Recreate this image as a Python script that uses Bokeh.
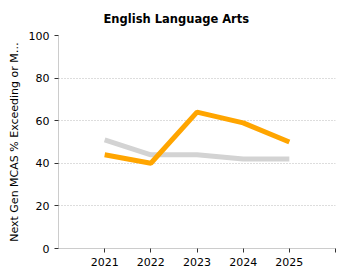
from bokeh.plotting import figure
from bokeh.models import Range1d, FixedTicker
from bokeh.embed import file_html
from bokeh.resources import INLINE

years = [2021, 2022, 2023, 2024, 2025]
school = [44, 40, 64, 59, 50]
state = [51, 44, 44, 42, 42]
y_ticks = [0, 20, 40, 60, 80, 100]

FONT = "DejaVu Sans"

p = figure(width=350, height=280, output_backend="svg", toolbar_location=None,
           x_range=Range1d(2020, 2026), y_range=Range1d(0, 100),
           min_border_left=58, min_border_right=15, min_border_top=35, min_border_bottom=32,
           title="English Language Arts")
p.title.align = "left"
p.title.offset = 45
p.title.standoff = 19
p.title.text_font = FONT
p.title.text_font_size = "11.5px"
p.title.text_font_style = "bold"
p.title.text_color = "#000000"
p.outline_line_color = None

p.line(years, state, line_color="#d3d3d3", line_width=5)
p.line(years, school, line_color="#ffa500", line_width=5)

p.xgrid.grid_line_color = None
p.ygrid.grid_line_color = "#bbbbbb"
p.ygrid.grid_line_dash = "1 2"
p.ygrid.grid_line_width = 1

p.xaxis.ticker = FixedTicker(ticks=years + [2026])
p.xaxis.major_label_overrides = {2026: ""}
p.yaxis.ticker = FixedTicker(ticks=y_ticks)
for ax in (p.xaxis, p.yaxis):
    ax.axis_line_color = "#cccccc"
    ax.major_tick_line_color = "#333333"
    ax.minor_tick_line_color = None
    ax.major_tick_in = 0
    ax.major_tick_out = 4
    ax.major_label_text_font = FONT
    ax.major_label_text_font_size = "11px"
    ax.major_label_text_color = "#000000"
p.yaxis.axis_label = "Next Gen MCAS % Exceeding or M\u2026"
p.yaxis.axis_label_text_font = FONT
p.yaxis.axis_label_text_font_size = "11px"
p.yaxis.axis_label_text_font_style = "normal"
p.yaxis.axis_label_text_color = "#000000"
p.yaxis.axis_label_standoff = 5

open("out.html", "w").write(file_html(p, INLINE))
